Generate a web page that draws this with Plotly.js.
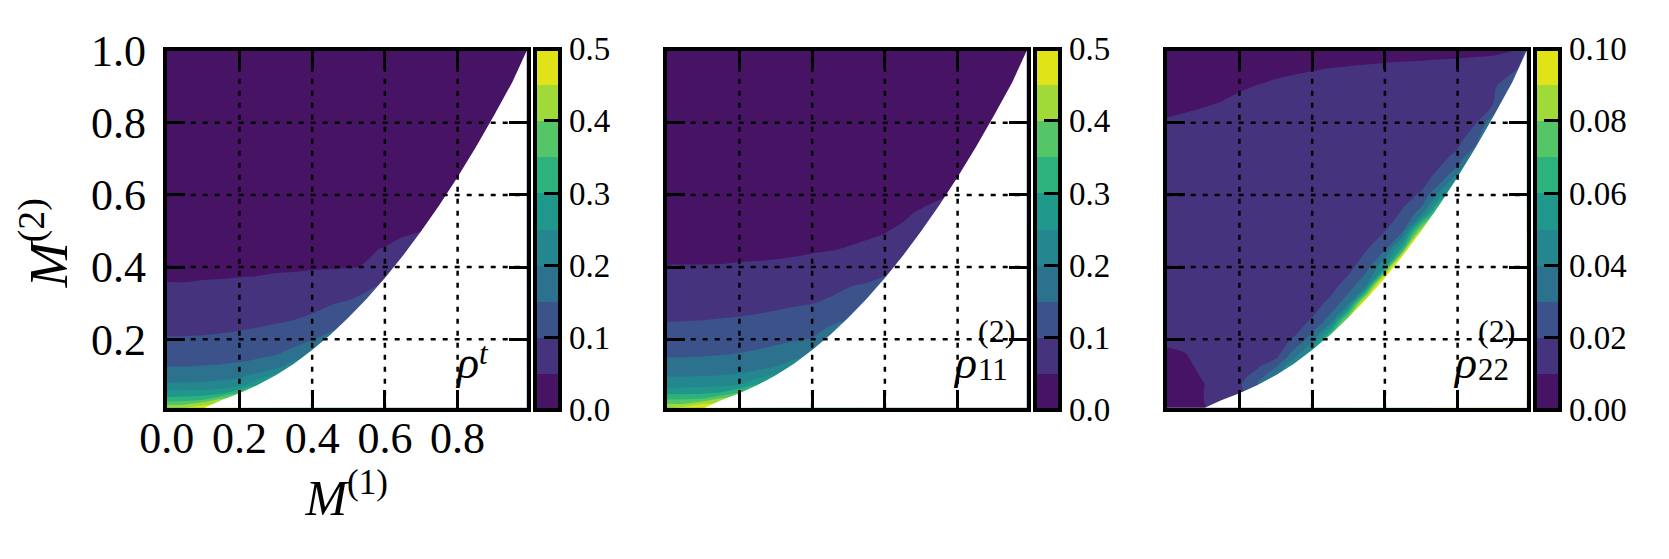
<!DOCTYPE html>
<html>
<head>
<meta charset="utf-8">
<script src="https://cdn.plot.ly/plotly-3.0.1.min.js"></script>
<style>
html,body{margin:0;padding:0;background:#fff;}
#chart{width:1669px;height:559px;}
</style>
</head>
<body>
<div id="chart"></div>
<script>
// ---- grid (M1 across, M2 up) ----
const m1Grid = [0,0.05,0.1,0.15,0.2,0.25,0.3,0.35,0.4,0.45,0.5,0.55,0.6,0.65,0.7,0.75,0.8,0.85,0.9,0.95,1.0];
const m2Grid = [0.01,0.02,0.035,0.05,0.075,0.1,0.125,0.15,0.2,0.25,0.3,0.35,0.4,0.45,0.5,0.55,0.6,0.65,0.7,0.75,0.8,0.85,0.9,0.95,1.0];

// ---- rho^t values (rows follow m2Grid, columns follow m1Grid; missing = outside domain) ----
const rhoT = [
 [0.43,0.45,0.465,0.47],
 [0.385,0.39,0.44,0.45],
 [0.315,0.318,0.328,0.4,0.41],
 [0.27,0.271,0.276,0.288,0.355,0.36],
 [0.205,0.206,0.208,0.213,0.218,0.29,0.3],
 [0.178,0.178,0.18,0.184,0.192,0.212,0.26,0.27],
 [0.149,0.149,0.151,0.153,0.157,0.164,0.18,0.23],
 [0.135,0.135,0.137,0.139,0.142,0.147,0.155,0.18,0.205],
 [0.103,0.103,0.104,0.106,0.109,0.113,0.118,0.126,0.148,0.165],
 [0.085,0.085,0.086,0.088,0.09,0.093,0.097,0.101,0.108,0.128,0.145],
 [0.068,0.068,0.069,0.07,0.072,0.075,0.079,0.084,0.089,0.096,0.106,0.125],
 [0.051,0.051,0.052,0.052,0.053,0.054,0.056,0.058,0.06,0.063,0.067,0.085,0.11],
 [0.045,0.045,0.045,0.046,0.046,0.046,0.047,0.047,0.048,0.0485,0.049,0.051,0.075,0.1],
 [0.04,0.04,0.04,0.041,0.041,0.042,0.042,0.043,0.044,0.045,0.046,0.048,0.051,0.06,0.068],
 [0.036,0.036,0.036,0.036,0.037,0.037,0.037,0.038,0.038,0.039,0.04,0.041,0.043,0.045,0.049,0.052],
 [0.033,0.033,0.033,0.033,0.034,0.034,0.034,0.035,0.035,0.036,0.036,0.037,0.039,0.04,0.043,0.047],
 [0.03,0.03,0.03,0.03,0.031,0.031,0.031,0.032,0.032,0.033,0.033,0.034,0.035,0.036,0.038,0.042,0.046],
 [0.0275,0.0275,0.0275,0.0275,0.0285,0.0285,0.0285,0.0295,0.0295,0.0305,0.0305,0.0315,0.0325,0.0335,0.035,0.038,0.041,0.044],
 [0.025,0.025,0.025,0.025,0.026,0.026,0.026,0.027,0.027,0.028,0.028,0.029,0.03,0.031,0.032,0.034,0.037,0.042],
 [0.0225,0.0225,0.0225,0.0225,0.0235,0.0235,0.0235,0.0245,0.0245,0.0255,0.0255,0.0265,0.0275,0.0285,0.0295,0.031,0.0335,0.0375,0.04],
 [0.02,0.02,0.02,0.02,0.021,0.021,0.021,0.022,0.022,0.023,0.023,0.024,0.025,0.026,0.027,0.028,0.03,0.033,0.037],
 [0.018,0.018,0.018,0.018,0.019,0.019,0.019,0.02,0.02,0.021,0.021,0.022,0.023,0.024,0.025,0.026,0.0275,0.03,0.033,0.034],
 [0.016,0.016,0.016,0.016,0.017,0.017,0.017,0.018,0.018,0.019,0.019,0.02,0.021,0.022,0.023,0.024,0.025,0.027,0.029,0.03],
 [0.014,0.014,0.014,0.014,0.015,0.015,0.015,0.016,0.016,0.017,0.017,0.018,0.019,0.02,0.021,0.022,0.023,0.0245,0.026,0.027,0.028],
 [0.012,0.012,0.012,0.012,0.013,0.013,0.013,0.014,0.014,0.015,0.015,0.016,0.017,0.018,0.019,0.02,0.021,0.022,0.023,0.024,0.025]
];

// ---- rho_11^(2) values ----
const rho11 = [
 [0.45,0.465,0.48,0.48],
 [0.4,0.405,0.45,0.46],
 [0.34,0.343,0.353,0.41,0.42],
 [0.29,0.291,0.296,0.308,0.36,0.37],
 [0.225,0.226,0.229,0.234,0.244,0.3,0.31],
 [0.195,0.195,0.197,0.2,0.207,0.222,0.26,0.27],
 [0.168,0.168,0.17,0.172,0.177,0.185,0.2,0.23],
 [0.15,0.15,0.151,0.153,0.156,0.161,0.17,0.19,0.21],
 [0.125,0.125,0.126,0.128,0.131,0.135,0.14,0.145,0.152,0.165],
 [0.099,0.1,0.101,0.103,0.105,0.108,0.113,0.12,0.13,0.145,0.15],
 [0.083,0.083,0.083,0.084,0.086,0.088,0.091,0.095,0.099,0.107,0.117,0.13],
 [0.068,0.068,0.068,0.069,0.07,0.071,0.073,0.076,0.08,0.087,0.097,0.104,0.11],
 [0.051,0.051,0.051,0.051,0.052,0.052,0.053,0.054,0.056,0.059,0.064,0.07,0.09,0.1],
 [0.044,0.044,0.044,0.045,0.045,0.046,0.046,0.047,0.048,0.049,0.051,0.053,0.056,0.07,0.08],
 [0.038,0.038,0.038,0.039,0.039,0.04,0.04,0.041,0.042,0.043,0.045,0.047,0.049,0.054,0.065,0.065],
 [0.034,0.034,0.034,0.0345,0.035,0.0355,0.0355,0.0365,0.037,0.038,0.0395,0.041,0.0425,0.046,0.053,0.058],
 [0.03,0.03,0.03,0.03,0.031,0.031,0.031,0.032,0.032,0.033,0.034,0.035,0.036,0.038,0.041,0.047,0.053],
 [0.027,0.027,0.027,0.027,0.028,0.028,0.028,0.029,0.029,0.03,0.031,0.032,0.033,0.035,0.0375,0.042,0.0475,0.05],
 [0.024,0.024,0.024,0.024,0.025,0.025,0.025,0.026,0.026,0.027,0.028,0.029,0.03,0.032,0.034,0.037,0.042,0.048],
 [0.0215,0.0215,0.0215,0.0215,0.0225,0.0225,0.0225,0.0235,0.0235,0.0245,0.025,0.026,0.027,0.0285,0.0305,0.033,0.037,0.0425,0.045],
 [0.019,0.019,0.019,0.019,0.02,0.02,0.02,0.021,0.021,0.022,0.022,0.023,0.024,0.025,0.027,0.029,0.032,0.037,0.042],
 [0.017,0.017,0.017,0.017,0.018,0.018,0.018,0.019,0.019,0.02,0.02,0.021,0.022,0.023,0.0245,0.026,0.0285,0.032,0.036,0.038],
 [0.015,0.015,0.015,0.015,0.016,0.016,0.016,0.017,0.017,0.018,0.018,0.019,0.02,0.021,0.022,0.023,0.025,0.027,0.03,0.033],
 [0.013,0.013,0.013,0.013,0.014,0.014,0.014,0.015,0.015,0.016,0.016,0.017,0.018,0.019,0.02,0.021,0.0225,0.024,0.026,0.028,0.03],
 [0.011,0.011,0.011,0.011,0.012,0.012,0.012,0.013,0.013,0.014,0.014,0.015,0.016,0.017,0.018,0.019,0.02,0.021,0.022,0.023,0.024]
];

// ---- rho_22^(2) values ----
const rho22 = [
 [0.006,0.0075,0.0095,0.012],
 [0.006,0.0076,0.0097,0.013],
 [0.0062,0.0077,0.0098,0.014,0.016],
 [0.0065,0.008,0.0099,0.0135,0.0192,0.022],
 [0.007,0.0082,0.0098,0.0125,0.0185,0.03,0.034],
 [0.0075,0.0085,0.0104,0.012,0.016,0.024,0.038,0.045],
 [0.008,0.0088,0.0112,0.0125,0.0155,0.0185,0.029,0.051],
 [0.009,0.0096,0.0115,0.0128,0.015,0.0175,0.0181,0.0375,0.0635],
 [0.0108,0.0112,0.012,0.013,0.014,0.0155,0.0175,0.0206,0.035,0.078],
 [0.0118,0.012,0.0125,0.0132,0.014,0.015,0.0158,0.0165,0.021,0.035,0.094],
 [0.0125,0.0126,0.013,0.0135,0.014,0.0147,0.0153,0.0157,0.016,0.0223,0.037,0.114],
 [0.013,0.013,0.0133,0.0137,0.0142,0.0147,0.0151,0.0155,0.0158,0.0162,0.0241,0.04,0.137],
 [0.0133,0.0133,0.0135,0.0138,0.0142,0.0146,0.015,0.0155,0.0159,0.0164,0.017,0.0263,0.05,0.1625],
 [0.0135,0.0135,0.0136,0.0139,0.0142,0.0147,0.0153,0.016,0.0167,0.0175,0.0184,0.0195,0.028,0.065,0.2],
 [0.0138,0.0138,0.0139,0.014,0.0143,0.0147,0.0152,0.0158,0.0164,0.0171,0.0178,0.0186,0.0199,0.03,0.09,0.1],
 [0.014,0.014,0.0141,0.0142,0.0144,0.0148,0.0152,0.0157,0.0163,0.0169,0.0175,0.0182,0.0188,0.0203,0.035,0.084],
 [0.0142,0.0142,0.0143,0.0144,0.0146,0.0149,0.0153,0.0157,0.0162,0.0167,0.0173,0.0179,0.0185,0.0192,0.0203,0.044,0.075],
 [0.0136,0.0136,0.0137,0.0138,0.014,0.0143,0.0147,0.0151,0.0156,0.0161,0.0166,0.0172,0.0178,0.0184,0.019,0.0208,0.045,0.05],
 [0.0128,0.0129,0.013,0.0132,0.0135,0.0138,0.0142,0.0146,0.015,0.0155,0.016,0.0166,0.0172,0.0178,0.0185,0.0193,0.021,0.053],
 [0.0117,0.012,0.0123,0.0127,0.0132,0.0137,0.0141,0.0146,0.015,0.0155,0.016,0.0166,0.0171,0.0177,0.0183,0.0189,0.0192,0.0223,0.09],
 [0.0105,0.011,0.0115,0.0122,0.013,0.0135,0.014,0.0145,0.015,0.0155,0.016,0.0165,0.017,0.0175,0.018,0.0186,0.0194,0.0198,0.038],
 [0.0088,0.0092,0.0097,0.0103,0.0112,0.012,0.0127,0.0132,0.0136,0.014,0.0143,0.0147,0.015,0.0155,0.016,0.0166,0.0173,0.0182,0.0202,0.053],
 [0.0075,0.0078,0.0082,0.0087,0.0095,0.0102,0.0109,0.0114,0.0119,0.0123,0.0126,0.0129,0.0132,0.0136,0.014,0.0145,0.015,0.016,0.018,0.032],
 [0.0063,0.0065,0.0068,0.0072,0.0078,0.0083,0.0088,0.0093,0.0097,0.0101,0.0104,0.0107,0.011,0.0113,0.0116,0.012,0.0124,0.013,0.0138,0.016,0.03],
 [0.005,0.0052,0.0055,0.006,0.0063,0.0065,0.0068,0.007,0.0072,0.0074,0.0076,0.0077,0.0078,0.0079,0.008,0.0081,0.0082,0.0084,0.0086,0.009,0.025]
];

// ---- edge of the admissible region ----
const boundaryM1 = [0.105,0.15,0.2,0.25,0.3,0.35,0.4,0.45,0.5,0.55,0.6,0.65,0.7,0.75,0.8,0.85,0.9,0.95,0.99];
const boundaryM2 = [0.01,0.031,0.05,0.073,0.1,0.132,0.17,0.212,0.26,0.312,0.37,0.432,0.5,0.572,0.65,0.732,0.82,0.912,1.0];

// ---- ticks ----
const xTickVals = [0,0.2,0.4,0.6,0.8];
const xTickText = ['0.0','0.2','0.4','0.6','0.8'];
const yTickVals = [0.2,0.4,0.6,0.8,1.0];
const yTickText = ['0.2','0.4','0.6','0.8','1.0'];
const cbTicksA = [0,0.1,0.2,0.3,0.4,0.5];
const cbTicksB = [0,0.02,0.04,0.06,0.08,0.1];
const bandColors = ['#471365','#46337e','#3b528b','#2c728e','#24868e','#1f988b','#2db27d','#55c667','#a0da39','#dfe318'];

// ---- build ----
const FONT = 'Liberation Serif';
const W = 1669, H = 559;
const pad = r => r.concat(Array(m1Grid.length - r.length).fill(null));
const stepScale = [];
bandColors.forEach((c,i)=>{ stepScale.push([i/10,c]); stepScale.push([(i+1)/10,c]); });

const xDom = [[166.7,526.7],[666.7,1026.7],[1166.7,1526.7]].map(d=>[d[0]/W,d[1]/W]);
const yDom = [(H-407.7)/H,(H-50.7)/H];
const cbX = [534.7/W,1034.7/W,1534.7/W];

function contour(z, k, zmax, step, ticks, fmt){
  const sfx = k===0 ? '' : String(k+1);
  return {
    type:'contour', x:m1Grid, y:m2Grid, z:z.map(pad), xaxis:'x'+sfx, yaxis:'y'+sfx,
    connectgaps:true, zauto:false, zmin:0, zmax:zmax, autocontour:false,
    contours:{start:0,end:zmax,size:step,coloring:'fill',showlines:false},
    line:{width:0}, colorscale:stepScale, hoverinfo:'skip',
    colorbar:{x:cbX[k],xanchor:'left',xpad:0,y:yDom[1]+2/H,yanchor:'top',ypad:0,
      len:361,lenmode:'pixels',thickness:25,thicknessmode:'pixels',
      outlinewidth:4,outlinecolor:'#000',borderwidth:0,
      ticks:'inside',ticklen:18,tickwidth:3,tickcolor:'#000',
      tickvals:ticks,tickformat:fmt,tickfont:{family:FONT,size:33,color:'#000'}}
  };
}
function mask(k){
  const sfx = k===0 ? '' : String(k+1);
  return {type:'scatter',mode:'lines',xaxis:'x'+sfx,yaxis:'y'+sfx,
    x:boundaryM1.concat([1.2,1.2,boundaryM1[0]]),
    y:boundaryM2.concat([1.0,-0.2,-0.2]),
    fill:'toself',fillcolor:'#ffffff',line:{width:0,color:'rgba(0,0,0,0)'},
    hoverinfo:'skip',showlegend:false};
}

const data = [
  contour(rhoT,0,0.5,0.05,cbTicksA,'.1f'), mask(0),
  contour(rho11,1,0.5,0.05,cbTicksA,'.1f'), mask(1),
  contour(rho22,2,0.1,0.01,cbTicksB,'.2f'), mask(2)
];

const layout = {width:W,height:H,margin:{l:0,r:0,t:0,b:0},autosize:false,
  paper_bgcolor:'#fff',plot_bgcolor:'#fff',showlegend:false,
  font:{family:FONT,color:'#000'},shapes:[],annotations:[]};

for(let k=0;k<3;k++){
  const sfx = k===0 ? '' : String(k+1);
  const common = {ticks:'inside',ticklen:18,tickwidth:3,tickcolor:'#000',showline:true,linewidth:4,
    linecolor:'#000',mirror:'allticks',showgrid:false,zeroline:false,layer:'above traces',
    tickfont:{family:FONT,size:44,color:'#000'},fixedrange:true};
  layout['xaxis'+sfx] = Object.assign({},common,{domain:xDom[k],range:[0,0.99],anchor:'y'+sfx,
    tickvals:xTickVals,ticktext:xTickText,showticklabels:k===0,ticklabelstandoff:-12});
  layout['yaxis'+sfx] = Object.assign({},common,{domain:yDom,range:[0.01,1.0],anchor:'x'+sfx,
    tickvals:yTickVals,ticktext:yTickText,showticklabels:k===0,ticklabelstandoff:8});
  xTickVals.slice(1).forEach(v=>layout.shapes.push({type:'line',xref:'x'+sfx,yref:'y'+sfx+' domain',
    x0:v,x1:v,y0:0,y1:1,layer:'above',line:{color:'#000',width:2.5,dash:'5px,7px'}}));
  yTickVals.slice(0,4).forEach(v=>layout.shapes.push({type:'line',xref:'x'+sfx+' domain',yref:'y'+sfx,
    x0:0,x1:1,y0:v,y1:v,layer:'above',line:{color:'#000',width:2.5,dash:'5px,7px'}}));
}
layout.xaxis.title = {text:'<i>M</i><sup>(1)</sup>',font:{family:FONT,size:50,color:'#000'},standoff:2};
layout.yaxis.title = {text:'<i>M</i><sup>(2)</sup>&nbsp;&nbsp;',font:{family:FONT,size:54,color:'#000'},standoff:7};

function ann(text,px,py,size,italic){
  layout.annotations.push({xref:'paper',yref:'paper',x:px/W,y:(H-py)/H,xanchor:'left',yanchor:'middle',
    showarrow:false,text:italic?'<i>'+text+'</i>':text,font:{family:FONT,size:size,color:'#000'}});
}
ann('ρ',453,362,46,true); ann('t',477,353,31,true);
ann('ρ',951,362,46,true); ann('(2)',976,331,32,false); ann('11',976,369,31,false);
ann('ρ',1451,362,46,true); ann('(2)',1476,331,32,false); ann('22',1476,369,31,false);

Plotly.newPlot('chart',data,layout,{displayModeBar:false,staticPlot:true}).then(()=>{
  document.querySelectorAll('#chart text').forEach(t=>{ if(!t.textContent.trim()) t.remove(); });
});
</script>
</body>
</html>
